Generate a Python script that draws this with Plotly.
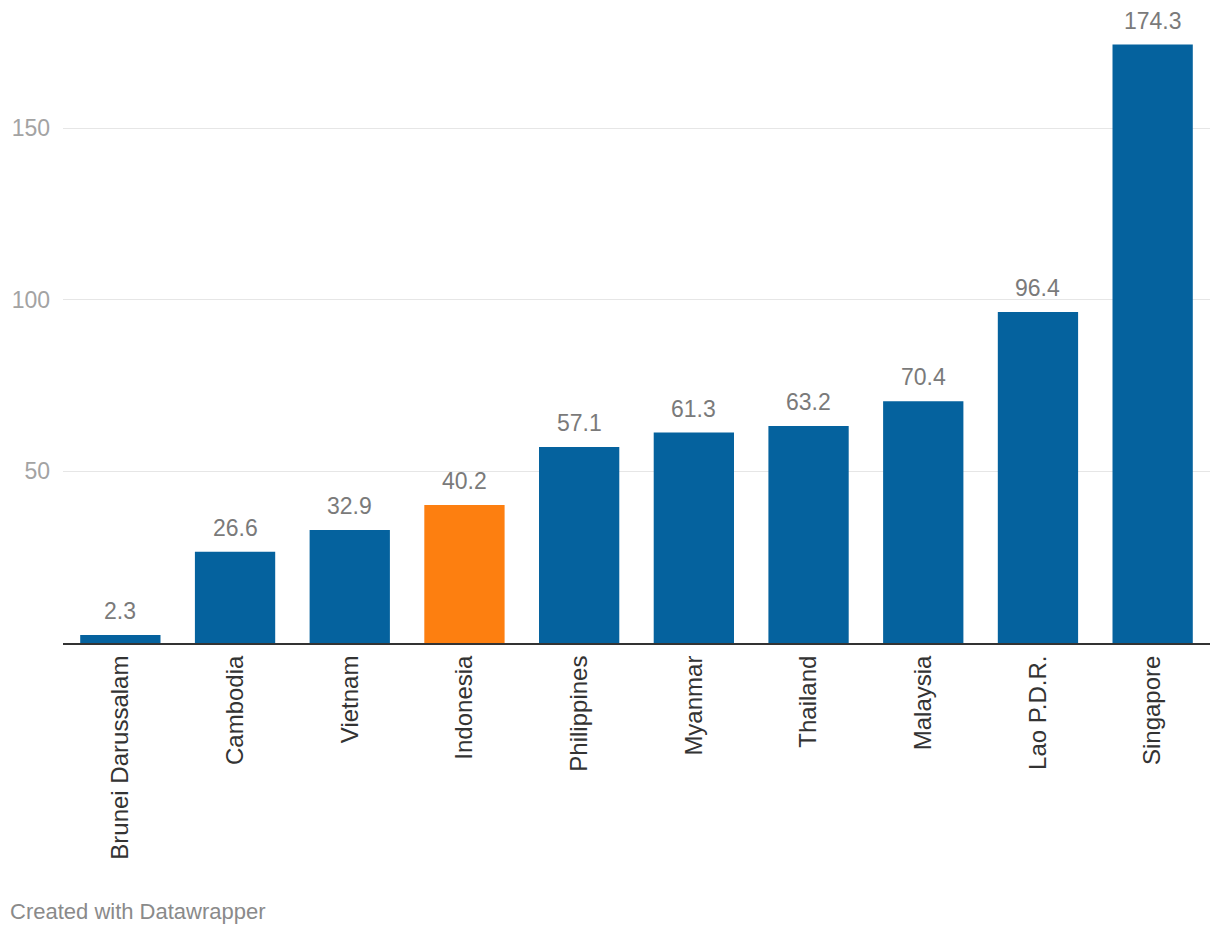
import plotly.graph_objects as go

countries = ["Brunei Darussalam", "Cambodia", "Vietnam", "Indonesia", "Philippines",
             "Myanmar", "Thailand", "Malaysia", "Lao P.D.R.", "Singapore"]
values = [2.3, 26.6, 32.9, 40.2, 57.1, 61.3, 63.2, 70.4, 96.4, 174.3]
highlight = "Indonesia"
y_ticks = [50, 100, 150]

BLUE = "#05629e"
ORANGE = "#fd7f10"
FONT = "Liberation Sans, Arial, Helvetica, sans-serif"

colors = [ORANGE if c == highlight else BLUE for c in countries]

L, T, PW, PH = 63, 25, 1147, 618

fig = go.Figure()
fig.add_trace(go.Bar(x=countries, y=values, marker=dict(color=colors, line=dict(width=0)),
                     hoverinfo="x+y"))

for c, v in zip(countries, values):
    fig.add_annotation(x=c, y=v, xref="x", yref="y", text=f"{v:.1f}", showarrow=False,
                       yanchor="bottom", yshift=9,
                       font=dict(family=FONT, size=23, color="#7a7a7a"))

fig.add_annotation(xref="paper", yref="paper", x=-55 / PW, y=-269 / PH,
                   xanchor="left", yanchor="middle",
                   text="Created with Datawrapper", showarrow=False,
                   font=dict(family=FONT, size=22, color="#8a8a8a"))

fig.update_layout(
    width=1220, height=938,
    margin=dict(l=L, r=1220 - L - PW, t=T, b=938 - T - PH, autoexpand=False),
    plot_bgcolor="white", paper_bgcolor="white",
    bargap=0.30, showlegend=False,
    font=dict(family=FONT),
    xaxis=dict(tickangle=-90, tickfont=dict(family=FONT, size=24, color="#333333"),
               showgrid=False, showline=True, linecolor="#333333", linewidth=2,
               ticks="", ticklabelstandoff=1, fixedrange=True, automargin=False),
    yaxis=dict(range=[0, 180], tickvals=y_ticks, ticktext=[str(t) for t in y_ticks],
               tickfont=dict(family=FONT, size=23, color="#a3a3a3"),
               showgrid=True, gridcolor="#e6e6e6", gridwidth=1,
               zeroline=False, showline=False, ticks="", ticklabelstandoff=12,
               fixedrange=True, automargin=False),
)
fig.write_html("out.html", config={"displayModeBar": False},
               post_script="document.body.style.margin='0';")
